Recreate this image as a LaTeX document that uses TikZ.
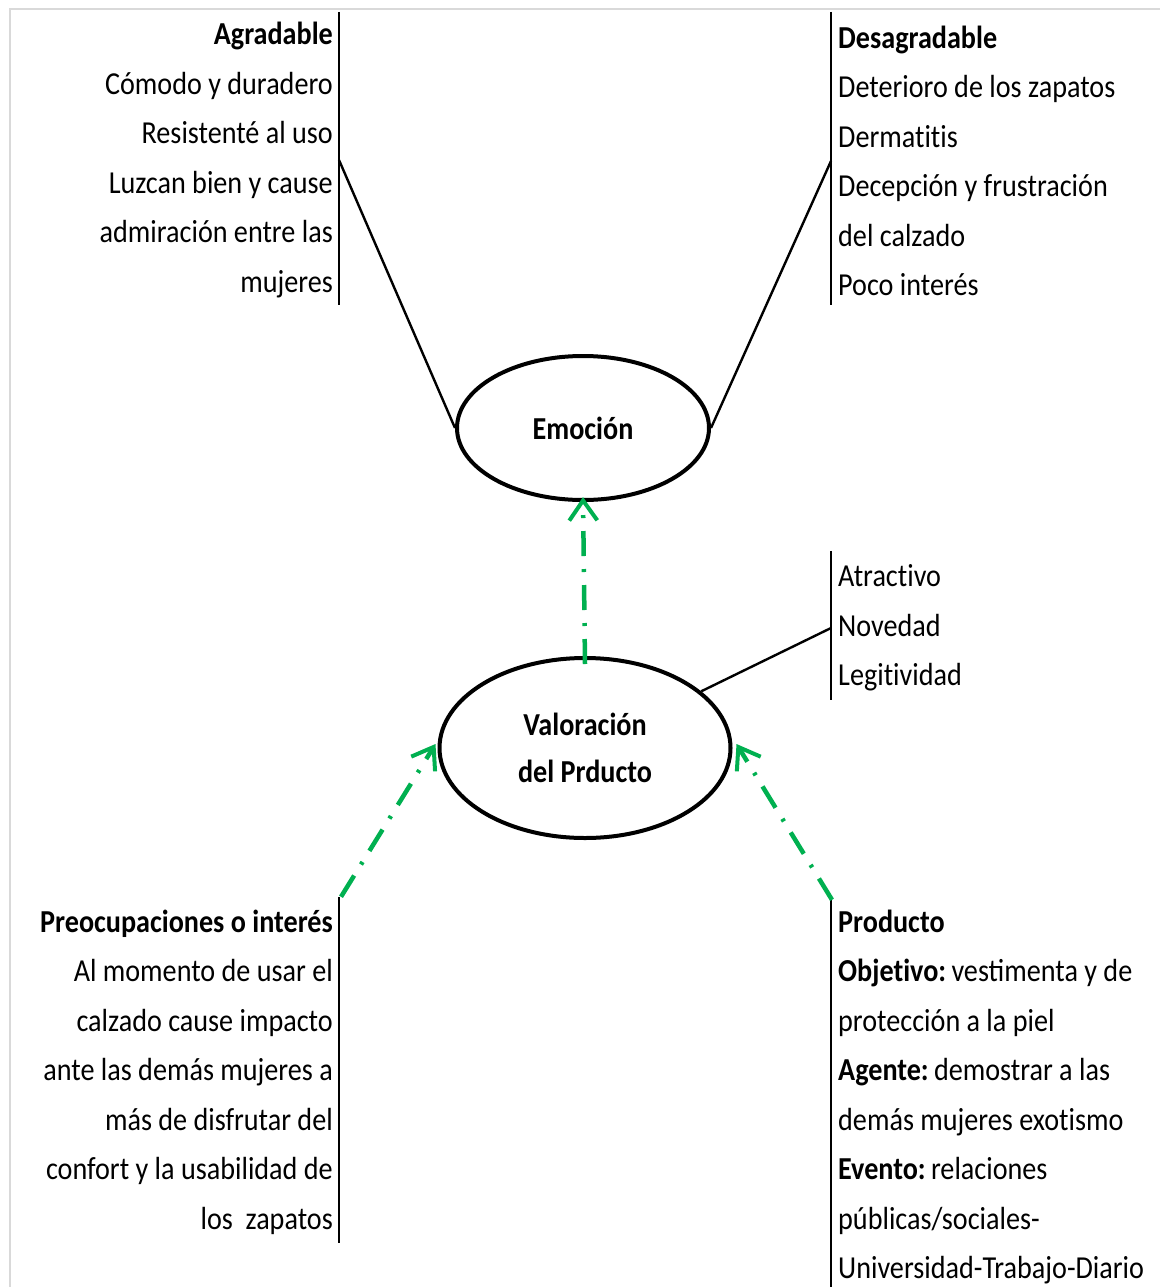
\documentclass[tikz,border=0pt]{standalone}
\usepackage{fontspec}
\setmainfont{Carlito}[FakeStretch=0.88]
\usepackage{tikz}
\usetikzlibrary{arrows.meta,positioning,shapes.geometric}
\definecolor{flecha}{RGB}{0,176,80}
\definecolor{marco}{RGB}{217,217,217}
% sin ligadura "ti"
\newcommand\tsep{t\kern0pt i}

\begin{document}
\begin{tikzpicture}[
  x=1pt, y=-1pt,
  every node/.style={font=\fontsize{32}{49.5}\selectfont},
  elipse/.style={ellipse, draw, line width=4pt, inner sep=0pt, font=\fontsize{32}{47}\selectfont\bfseries, align=center},
  listaizq/.style={anchor=east, align=right, inner xsep=6pt, inner ysep=0pt},
  listader/.style={anchor=west, align=left, inner xsep=7pt, inner ysep=0pt},
  barra/.style={draw, line width=1.3pt},
  enlace/.style={draw, line width=2.4pt},
  punteada/.style={draw=flecha, line width=4.5pt, dash pattern=on 25pt off 13pt on 3pt off 13pt,
    -{Straight Barb[length=20pt,width=28pt,line width=4pt]}}
]
\useasboundingbox (0,0) rectangle (1165,1287);
\draw[marco, line width=1.5pt] (10,1287) -- (10,9) -- (1160,9);

% elipses
\node[elipse, minimum width=252pt, minimum height=144pt] (emo) at (583,428) {Emoción};
\node[elipse, minimum width=291pt, minimum height=180pt] (val) at (585,748) {Valoración\\del Prducto};

% listas
\node[listaizq, minimum height=293pt] (agr) at (339,160)
  {\textbf{Agradable}\\Cómodo y duradero\\Resistenté al uso\\Luzcan bien y cause\\admiración entre las\\mujeres};
\node[listader, minimum height=293pt] (des) at (831,161)
  {\textbf{Desagradable}\\Deterioro de los zapatos\\Derma\tsep\tsep s\\Decepción y frustración\\del calzado\\Poco interés};
\node[listader, minimum height=149pt] (atr) at (831,628)
  {Atrac\tsep vo\\Novedad\\Legi\tsep vidad};
\node[listaizq, minimum height=346pt] (pre) at (339,1072)
  {\textbf{Preocupaciones o interés}\\Al momento de usar el\\calzado cause impacto\\ante las demás mujeres a\\más de disfrutar del\\confort y la usabilidad de\\los\ \ zapatos};
\node[listader, minimum height=387pt] (pro) at (831,1097)
  {\textbf{Producto}\\\textbf{Obje\tsep vo:}\,vestimenta y de\\protección a la piel\\\textbf{Agente:}\,demostrar a las\\demás mujeres exo\tsep smo\\\textbf{Evento:}\,relaciones\\públicas/sociales-\\Universidad-Trabajo-Diario};

% barras (ajustadas a la posicion del texto)
\draw[barra] ([yshift=1.5pt]agr.north east) -- ([yshift=1.5pt]agr.south east);
\draw[barra] ([yshift=2.5pt]des.north west) -- ([yshift=2.5pt]des.south west);
\draw[barra] ([yshift=2.5pt]atr.north west) -- ([yshift=2.5pt]atr.south west);
\draw[barra] ([yshift=2pt]pre.north east) -- ([yshift=2pt]pre.south east);
\draw[barra] ([yshift=3.5pt]pro.north west) -- ([yshift=3.5pt]pro.south west);

% conexiones
\draw[enlace] (agr.east) -- (emo.west);
\draw[enlace] (des.west) -- (emo.east);
\draw[enlace] (atr.west) -- (val);

\draw[punteada] ([yshift=-8pt]val.north) -- ([yshift=5pt]emo.south);
\draw[punteada] ([shift={(2pt,2pt)}]pre.north east) -- ([shift={(-2pt,4pt)}]val.west);
\draw[punteada] ([shift={(1pt,3.5pt)}]pro.north west) -- ([shift={(4pt,4pt)}]val.east);
\end{tikzpicture}
\end{document}
